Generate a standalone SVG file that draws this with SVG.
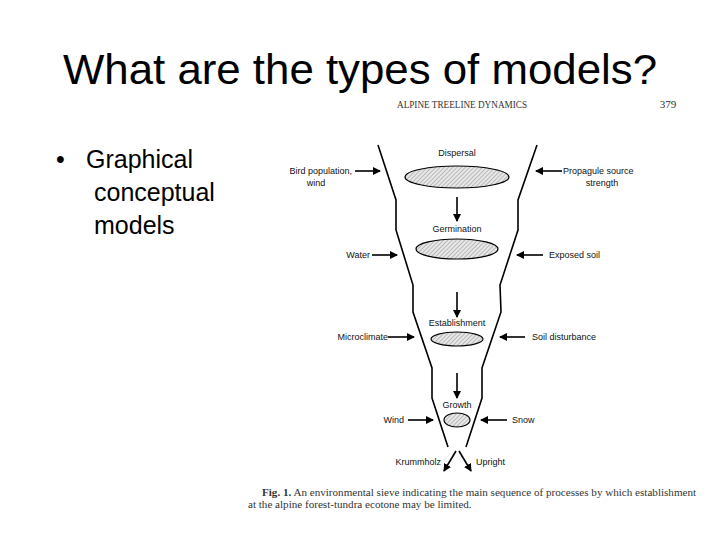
<svg xmlns="http://www.w3.org/2000/svg" width="720" height="540" viewBox="0 0 720 540">
<style>
.t{font-family:"Liberation Sans",Arial,sans-serif;fill:#000}
.s{font-family:"Liberation Sans",Arial,sans-serif;font-size:9px;fill:#111}
.c{font-family:"Liberation Serif",serif;font-size:11.1px;fill:#333}
.ln{stroke:#000;stroke-width:1.6;fill:none}
.el{fill:url(#hatch);stroke:#000;stroke-width:1.2}
</style>
<defs>
<pattern id="hatch" width="3" height="3" patternUnits="userSpaceOnUse" patternTransform="rotate(45)">
<rect width="3" height="3" fill="#e8e8e8"/><line x1="0" y1="0" x2="0" y2="3" stroke="#888" stroke-width="1"/>
</pattern>
<marker id="ah" markerWidth="8" markerHeight="8" refX="7" refY="4" orient="auto" markerUnits="userSpaceOnUse"><path d="M0,0 L8,4 L0,8 Z" fill="#000"/></marker>
</defs>
<rect width="720" height="540" fill="#fff"/>
<text class="t" x="360" y="84" font-size="42" text-anchor="middle" textLength="594" lengthAdjust="spacingAndGlyphs">What are the types of models?</text>
<text class="t" x="56" y="168" font-size="25">•</text>
<text class="t" font-size="25"><tspan x="86" y="168">Graphical</tspan><tspan x="94" y="201">conceptual</tspan><tspan x="94" y="234">models</tspan></text>
<text class="c" x="462" y="108" text-anchor="middle" font-size="8.5" textLength="130" lengthAdjust="spacingAndGlyphs">ALPINE TREELINE DYNAMICS</text>
<text class="c" x="668" y="108" text-anchor="middle">379</text>
<g id="funnel">
<polyline class="ln" points="378,145 396,200 396,230 413,285 413,312 432,368 432,398 448,447"/>
<polyline class="ln" points="537,145 518,200 518,230 500,285 501,312 482,368 482,398 466,447"/>
</g>
<g id="dispersal"><text class="s" x="457" y="156" text-anchor="middle">Dispersal</text><ellipse class="el" cx="457" cy="177" rx="52" ry="11"/></g>
<g id="germination"><text class="s" x="457" y="232" text-anchor="middle">Germination</text><ellipse class="el" cx="457" cy="249" rx="41" ry="10"/></g>
<g id="establishment"><text class="s" x="457" y="326" text-anchor="middle">Establishment</text><ellipse class="el" cx="457" cy="339" rx="26" ry="7"/></g>
<g id="growth"><text class="s" x="457" y="408" text-anchor="middle">Growth</text><ellipse class="el" cx="457" cy="420" rx="13" ry="7"/></g>
<g id="labels">
<text class="s" x="352" y="174" text-anchor="end">Bird population,</text>
<text class="s" x="316" y="186" text-anchor="middle">wind</text>
<text class="s" x="563" y="174">Propagule source</text>
<text class="s" x="602" y="186" text-anchor="middle">strength</text>
<text class="s" x="370" y="258" text-anchor="end">Water</text>
<text class="s" x="549" y="258">Exposed soil</text>
<text class="s" x="388" y="340" text-anchor="end">Microclimate</text>
<text class="s" x="532" y="340">Soil disturbance</text>
<text class="s" x="404" y="423" text-anchor="end">Wind</text>
<text class="s" x="512" y="423">Snow</text>
<text class="s" x="441" y="465" text-anchor="end">Krummholz</text>
<text class="s" x="476" y="465">Upright</text>
</g>
<g id="connectors" stroke="#000" stroke-width="1.6" marker-end="url(#ah)">
<line x1="457" y1="197" x2="457" y2="221"/>
<line x1="457" y1="292" x2="457" y2="317"/>
<line x1="457" y1="373" x2="457" y2="398"/>
<line x1="355" y1="171" x2="380" y2="171"/>
<line x1="562" y1="171" x2="536" y2="171"/>
<line x1="372" y1="255" x2="397" y2="255"/>
<line x1="543" y1="255" x2="517" y2="255"/>
<line x1="388" y1="337" x2="414" y2="337"/>
<line x1="525" y1="337" x2="500" y2="337"/>
<line x1="408" y1="420" x2="433" y2="420"/>
<line x1="507" y1="420" x2="481" y2="420"/>
<line x1="456" y1="451" x2="444" y2="471"/>
<line x1="459" y1="451" x2="471" y2="471"/>
</g>
<text class="c"><tspan x="262" y="496"><tspan font-weight="bold">Fig. 1.</tspan> An environmental sieve indicating the main sequence of processes by which establishment</tspan><tspan x="248" y="508">at the alpine forest-tundra ecotone may be limited.</tspan></text>
</svg>
